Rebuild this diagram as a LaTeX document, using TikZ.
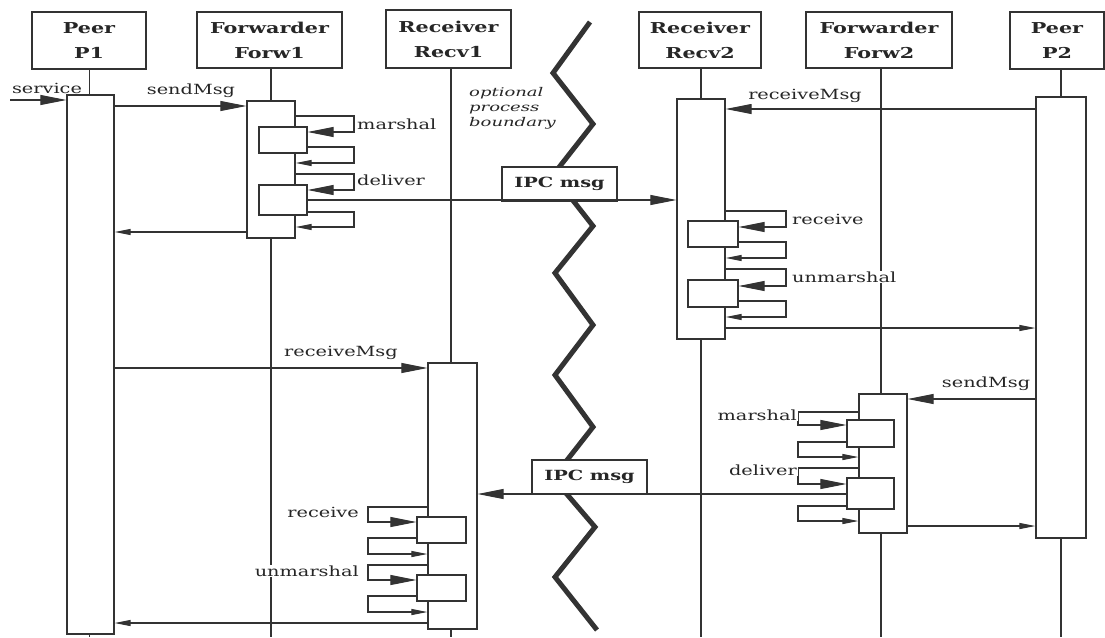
\documentclass[tikz,border=0pt]{standalone}
\usepackage{fontspec}
\setmainfont{DejaVu Serif}
\usetikzlibrary{arrows.meta}
\newcommand\wx[1]{\scalebox{1.38}[1]{#1}}
\newcommand\hd[2]{\wx{#1}\\\wx{#2}}
\begin{document}
\begin{tikzpicture}[x=1pt,y=-1pt,
  ink/.style={draw=black!80},
  head/.style={ink, line width=1.3pt, fill=white, inner sep=0pt, align=center,
    font=\fontsize{15}{25}\selectfont\bfseries, text=black!85},
  act/.style={ink, line width=1.2pt, fill=white, inner sep=0pt},
  inbox/.style={ink, line width=1.2pt, fill=white, inner sep=0pt},
  life/.style={ink, line width=1.2pt},
  call/.style={ink, line width=1.1pt, -{Triangle[length=26pt,width=10pt]}},
  ret/.style={ink, line width=1.1pt, -{Triangle[length=16pt,width=6pt]}},
  lbl/.style={font=\fontsize{14}{16}\selectfont, fill=white, inner sep=1pt, text=black!85},
  ipc/.style={ink, line width=1.2pt, fill=white, minimum width=115pt, minimum height=34pt,
    inner sep=0pt, font=\fontsize{14}{16}\selectfont\bfseries, text=black!85},
  zig/.style={draw=black!80, line width=5pt, line join=miter},
]
\fill[white] (0,0) rectangle (1105,637);
\useasboundingbox (0,0) rectangle (1105,637);
\coordinate (bot) at (0,637);

% headers
\node[head, minimum width=114pt, minimum height=57pt] (h1) at (89,40.5) {\hd{Peer}{P1}};
\node[head, minimum width=145pt, minimum height=56pt] (h2) at (269.5,40) {\hd{Forwarder}{Forw1}};
\node[head, minimum width=125pt, minimum height=58pt] (h3) at (448.5,39) {\hd{Receiver}{Recv1}};
\node[head, minimum width=122pt, minimum height=56pt] (h4) at (700,40) {\hd{Receiver}{Recv2}};
\node[head, minimum width=146pt, minimum height=56pt] (h5) at (879,40) {\hd{Forwarder}{Forw2}};
\node[head, minimum width=94pt, minimum height=57pt] (h6) at (1057,40.5) {\hd{Peer}{P2}};

% activation coordinates (for lifelines)
\coordinate (c1) at (89.5,0);
\coordinate (c2) at (271,0);
\coordinate (c3) at (451,0);
\coordinate (c4) at (701,0);
\coordinate (c5) at (881,0);
\coordinate (c6) at (1061,0);
\foreach \i in {1,...,6} \draw[life] (h\i.south -| c\i) -- (c\i |- bot);

% zigzag process boundary
\draw[zig] (590,22) -- (553,73) -- (593,124) -- (553,175) -- (593,226) -- (555,273)
  -- (593,325) -- (555,375) -- (593,427) -- (553,478) -- (595,527) -- (555,577) -- (597,630);

% activations
\node[act, minimum width=47pt, minimum height=539pt] (a1) at (90.5,364.5) {};
\node[act, minimum width=48pt, minimum height=137pt] (a2) at (271,169.5) {};
\node[act, minimum width=49pt, minimum height=266pt] (a3) at (452.5,496) {};
\node[act, minimum width=48pt, minimum height=240pt] (a4) at (701,219) {};
\node[act, minimum width=48pt, minimum height=139pt] (a5) at (883,463.5) {};
\node[act, minimum width=50pt, minimum height=441pt] (a6) at (1061,317.5) {};

% inner boxes
\node[inbox, minimum width=48pt, minimum height=26pt] (b1) at (283,140) {};
\node[inbox, minimum width=48pt, minimum height=30pt] (b2) at (283,200) {};
\node[inbox, minimum width=49pt, minimum height=26pt] (b3) at (441.5,530) {};
\node[inbox, minimum width=49pt, minimum height=26pt] (b4) at (441.5,588) {};
\node[inbox, minimum width=50pt, minimum height=26pt] (b5) at (713,234) {};
\node[inbox, minimum width=50pt, minimum height=27pt] (b6) at (713,293.5) {};
\node[inbox, minimum width=47pt, minimum height=27pt] (b7) at (870.5,433.5) {};
\node[inbox, minimum width=47pt, minimum height=31pt] (b8) at (870.5,493.5) {};

% IPC boxes
\node[ipc] (ipc1) at (559.5,184) {\wx{IPC msg}};
\node[ipc] (ipc2) at (589.5,477) {\wx{IPC msg}};

% P1 side
\coordinate (svc) at (10,100);
\draw[call] (svc) -- (a1.west |- svc);
\draw[call] (a1.east |- 0,106) -- (a2.west |- 0,106);

% Forw1 self calls
\draw[call] (a2.east |- 0,116) -| (354,132) -- (b1.east |- 0,132);
\draw[ret] (b1.east |- 0,147) -| (354,163) -- (a2.east |- 0,163);
\draw[call] (a2.east |- 0,174) -| (354,190) -- (b2.east |- 0,190);
\draw[ret] (b2.east |- 0,212) -| (354,227) -- (a2.east |- 0,227);
\draw[call] (b2.east |- 0,200) -- (a4.west |- 0,200);
\draw[ret] (a2.west |- 0,232) -- (a1.east |- 0,232);

% Recv2
\draw[call] (a6.west |- 0,109) -- (a4.east |- 0,109);
\draw[call] (a4.east |- 0,211) -| (786,227) -- (b5.east |- 0,227);
\draw[ret] (b5.east |- 0,242) -| (786,258) -- (a4.east |- 0,258);
\draw[call] (a4.east |- 0,269) -| (786,286) -- (b6.east |- 0,286);
\draw[ret] (b6.east |- 0,301) -| (786,317) -- (a4.east |- 0,317);
\draw[ret] (a4.east |- 0,328) -- (a6.west |- 0,328);

% Recv1
\draw[call] (a1.east |- 0,368) -- (a3.west |- 0,368);
\draw[call] (a3.west |- 0,507) -| (368,522) -- (b3.west |- 0,522);
\draw[ret] (b3.west |- 0,538) -| (368,554) -- (a3.west |- 0,554);
\draw[call] (a3.west |- 0,565) -| (368,580) -- (b4.west |- 0,580);
\draw[ret] (b4.west |- 0,596) -| (368,612) -- (a3.west |- 0,612);
\draw[ret] (a3.west |- 0,623) -- (a1.east |- 0,623);

% Forw2
\draw[call] (a6.west |- 0,399) -- (a5.east |- 0,399);
\draw[call] (a5.west |- 0,412) -| (798,425) -- (b7.west |- 0,425);
\draw[ret] (b7.west |- 0,442) -| (798,457) -- (a5.west |- 0,457);
\draw[call] (a5.west |- 0,468) -| (798,484) -- (b8.west |- 0,484);
\draw[ret] (b8.west |- 0,506) -| (798,521) -- (a5.west |- 0,521);
\draw[call] (b8.west |- 0,494) -- (a3.east |- 0,494);
\draw[ret] (a5.east |- 0,526) -- (a6.west |- 0,526);

% labels
\node[lbl] (t1) at (47,88) {\wx{service}};
\node[lbl] (t2) at (191,91) {\wx{sendMsg}};
\node[lbl, anchor=west] (t3) at (356,124) {\wx{marshal}};
\node[lbl, anchor=west] (t4) at (356,180) {\wx{deliver}};
\node[lbl] (t5) at (805,96) {\wx{receiveMsg}};
\node[lbl, anchor=west] (t6) at (791,219) {\wx{receive}};
\node[lbl, anchor=west] (t7) at (791,277) {\wx{unmarshal}};
\node[lbl] (t8) at (341,353) {\wx{receiveMsg}};
\node[lbl] (t9) at (986,384) {\wx{sendMsg}};
\node[lbl, anchor=east] (t10) at (798,415) {\wx{marshal}};
\node[lbl, anchor=east] (t11) at (798,470) {\wx{deliver}};
\node[lbl, anchor=east] (t12) at (360,512) {\wx{receive}};
\node[lbl, anchor=east] (t13) at (360,571) {\wx{unmarshal}};
\node[anchor=north west, align=left, inner sep=0pt, text=black!85,
  font=\fontsize{12}{15}\selectfont\itshape] (opt) at (469,87)
  {\scalebox{1.5}[1]{optional}\\\scalebox{1.5}[1]{process}\\\scalebox{1.5}[1]{boundary}};
\end{tikzpicture}
\end{document}
